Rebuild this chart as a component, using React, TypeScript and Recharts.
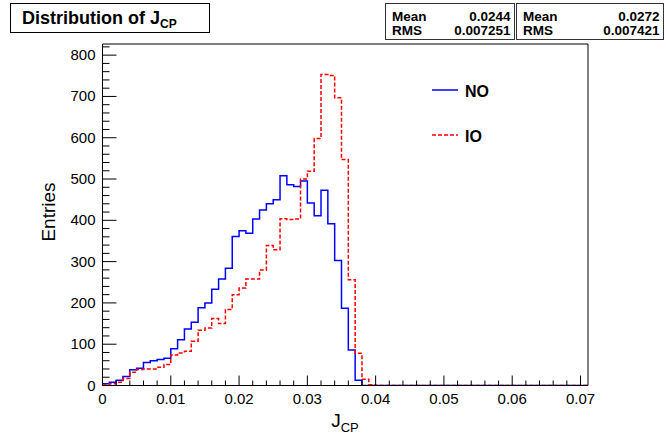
import { LineChart, Line, XAxis, YAxis, ReferenceArea } from "recharts";

// histogram of J_CP, 0.001 wide bins starting at 0
const BIN = 0.001;
const XMAX = 0.0711;
const YMAX = 827;

const noCounts = [
  4, 8, 13, 22, 38, 42, 56, 60, 63, 66,
  89, 111, 137, 153, 188, 200, 233, 258, 284, 361,
  375, 369, 403, 425, 440, 450, 508, 486, 482, 495,
  442, 411, 473, 392, 303, 187, 86, 13, 0, 0,
  0, 0, 0, 0, 0, 0, 0, 0, 0, 0,
  0, 0, 0, 0, 0, 0, 0, 0, 0, 0,
  0, 0, 0, 0, 0, 0, 0, 0, 0, 0,
  0,
];

const ioCounts = [
  2, 4, 8, 17, 32, 39, 40, 40, 44, 51,
  74, 79, 83, 107, 134, 139, 162, 150, 184, 220,
  236, 258, 258, 280, 339, 329, 404, 402, 403, 500,
  519, 598, 753, 751, 697, 547, 256, 78, 15, 2,
  0, 0, 0, 0, 0, 0, 0, 0, 0, 0,
  0, 0, 0, 0, 0, 0, 0, 0, 0, 0,
  0, 0, 0, 0, 0, 0, 0, 0, 0, 0,
  0,
];

const xTicks = [
  0, 0.002, 0.004, 0.006, 0.008, 0.01, 0.012, 0.014, 0.016, 0.018,
  0.02, 0.022, 0.024, 0.026, 0.028, 0.03, 0.032, 0.034, 0.036, 0.038,
  0.04, 0.042, 0.044, 0.046, 0.048, 0.05, 0.052, 0.054, 0.056, 0.058,
  0.06, 0.062, 0.064, 0.066, 0.068, 0.07,
];

const yTicks = [
  0, 20, 40, 60, 80, 100, 120, 140, 160, 180, 200, 220, 240, 260, 280,
  300, 320, 340, 360, 380, 400, 420, 440, 460, 480, 500, 520, 540, 560,
  580, 600, 620, 640, 660, 680, 700, 720, 740, 760, 780, 800, 820,
];

const series = [
  { key: "NO", color: "#0000ff", dash: undefined as string | undefined },
  { key: "IO", color: "#ff0000", dash: "4 2" },
];

const statNames = ["Mean", "RMS"];
const noStats = ["0.0244", "0.007251"];
const ioStats = ["0.0272", "0.007421"];

const rows = noCounts.map((n, i) => ({ x: i * BIN, NO: n, IO: ioCounts[i] }));
rows.push({ x: XMAX, NO: noCounts[noCounts.length - 1], IO: ioCounts[ioCounts.length - 1] });

const FONT = '"Liberation Sans", Arial, Helvetica, sans-serif';

const YTick = (props: any) => {
  const { x, y, payload } = props;
  const v = payload.value;
  const major = v % 100 === 0;
  return (
    <g>
      <line x1={x} y1={y} x2={x + (major ? 14 : 7)} y2={y} stroke="#000" />
      {major && (
        <text x={x - 7} y={y} dy={5} textAnchor="end" fontSize={15} fill="#000">
          {v}
        </text>
      )}
    </g>
  );
};

const XTick = (props: any) => {
  const { x, y, payload } = props;
  const k = Math.round(payload.value * 1000);
  const major = k % 10 === 0;
  return (
    <g>
      <line x1={x} y1={y} x2={x} y2={y - (major ? 10 : 5)} stroke="#000" />
      {major && (
        <text x={x} y={y + 18} textAnchor="middle" fontSize={15} fill="#000">
          {k === 0 ? "0" : payload.value.toFixed(2)}
        </text>
      )}
    </g>
  );
};

export default function App() {
  return (
    <div style={{ position: "absolute", left: 0, top: 0, width: 667, height: 442, background: "#fff", fontFamily: FONT }}>
      <LineChart
        width={667}
        height={442}
        data={rows}
        margin={{ top: 44, right: 79, bottom: 26.5, left: 42.5 }}
      >
        <XAxis
          dataKey="x"
          type="number"
          domain={[0, XMAX]}
          allowDataOverflow
          ticks={xTicks}
          interval={0}
          tick={<XTick />}
          tickSize={0}
          tickMargin={0}
          tickLine={false}
          axisLine={{ stroke: "#000" }}
          height={30}
          label={{
            content: () => (
              <text x={345} y={427} textAnchor="middle" fill="#000" fontSize={19}>
                J<tspan fontSize={13} dy={5}>CP</tspan>
              </text>
            ),
          }}
        />
        <YAxis
          type="number"
          domain={[0, YMAX]}
          allowDataOverflow
          ticks={yTicks}
          interval={0}
          tick={<YTick />}
          tickSize={0}
          tickMargin={0}
          tickLine={false}
          axisLine={{ stroke: "#000" }}
          width={60}
          label={{
            content: () => (
              <text x={55} y={212} textAnchor="middle" fill="#000" fontSize={19} transform="rotate(-90, 55, 212)">
                Entries
              </text>
            ),
          }}
        />
        <ReferenceArea x1={0} x2={XMAX} y1={0} y2={YMAX} fill="none" stroke="#000" ifOverflow="visible" />
        {series.map((s) => (
          <Line
            key={s.key}
            type="stepAfter"
            dataKey={s.key}
            name={s.key}
            stroke={s.color}
            strokeWidth={1.5}
            strokeDasharray={s.dash}
            dot={false}
            isAnimationActive={false}
          />
        ))}
      </LineChart>
      <svg width={667} height={442} style={{ position: "absolute", left: 0, top: 0, pointerEvents: "none" }}>
        {/* legend */}
        {series.map((s, i) => (
          <g key={s.key}>
            <line x1={432} x2={458} y1={90 + i * 45} y2={90 + i * 45} stroke={s.color} strokeWidth={1.5} strokeDasharray={s.dash} />
            <text x={465} y={96.5 + i * 45} fontSize={16} fontWeight="bold" fill="#000">
              {s.key}
            </text>
          </g>
        ))}
        <rect x={10.5} y={3.5} width={199} height={29} fill="#fff" stroke="#000" />
        <text x={22} y={24} fontSize={18} fontWeight="bold" fill="#000">
          Distribution of J<tspan fontSize={12} dy={4}>CP</tspan>
        </text>
        {[noStats, ioStats].map((vals, b) => {
          const left = b === 0 ? 385.5 : 516.5;
          const w = b === 0 ? 129 : 147;
          return (
            <g key={b}>
              <rect x={left} y={3.5} width={w} height={36} fill="#fff" stroke="#333" />
              {statNames.map((s, r) => (
                <g key={s}>
                  <text x={left + 6.5} y={21 + r * 14} fontSize={13.5} fontWeight="bold" fill="#000">
                    {s}
                  </text>
                  <text x={left + w - 4} y={21 + r * 14} fontSize={13.5} fontWeight="bold" fill="#000" textAnchor="end">
                    {vals[r]}
                  </text>
                </g>
              ))}
            </g>
          );
        })}
      </svg>
    </div>
  );
}
